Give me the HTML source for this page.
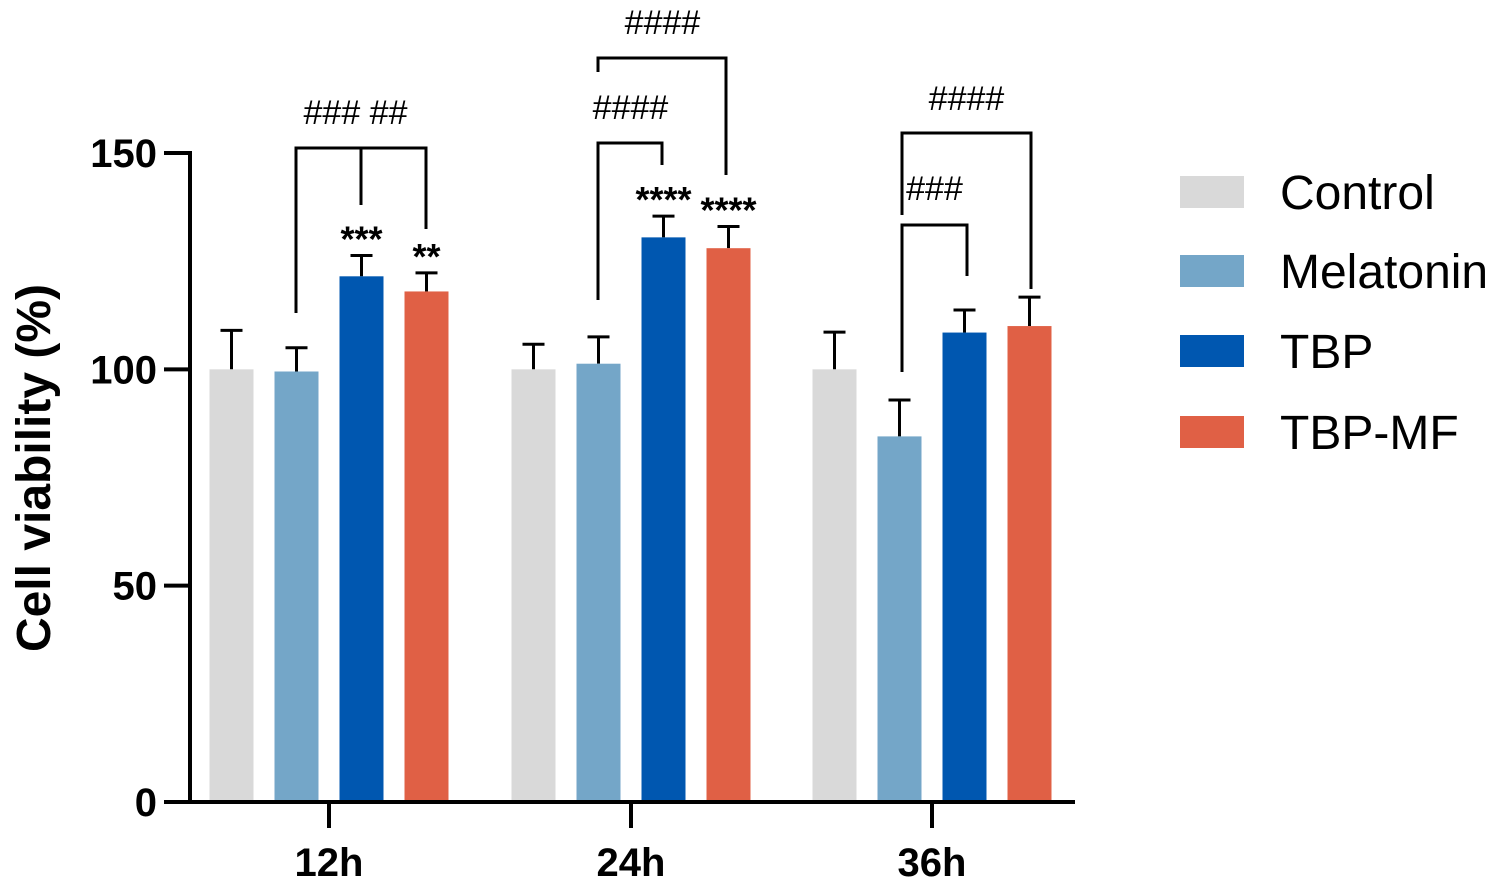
<!DOCTYPE html>
<html><head><meta charset="utf-8">
<style>
html,body{margin:0;padding:0;background:#fff;}
svg{display:block;font-family:"Liberation Sans",Arial,sans-serif;}
</style></head>
<body>
<svg id="chart" width="1502" height="888" viewBox="0 0 1502 888"></svg>
<script>
const categories = ["12h","24h","36h"];
const seriesNames = ["Control","Melatonin","TBP","TBP-MF"];
const controlVals = [100,100,100];
const melatoninVals = [99.5,101.3,84.5];
const tbpVals = [121.5,130.5,108.5];
const tbpmfVals = [118,128,110];
const controlErr = [9,5.8,8.6];
const melatoninErr = [5.5,6.2,8.4];
const tbpErr = [4.8,4.9,5.2];
const tbpmfErr = [4.3,5,6.7];
const yTicks = [0,50,100,150];
const starLabels = [["","","***","**"],["","","****","****"],["","","",""]];

const colors = ["#d9d9d9","#74a6c8","#0057b0","#e06045"];
const values = [controlVals,melatoninVals,tbpVals,tbpmfVals];
const errs = [controlErr,melatoninErr,tbpErr,tbpmfErr];
const svg = document.getElementById('chart');
const NS = "http://www.w3.org/2000/svg";
function mk(tag, attrs, parent){const e=document.createElementNS(NS,tag);for(const k in attrs)e.setAttribute(k,attrs[k]);(parent||svg).appendChild(e);return e;}
const y0=802, yTop=153, x0=190, x1=1075;
function yScale(v){return y0-(v/150)*(y0-yTop);}
const groupCenters=[329,631,932];
function xScale(gi,si){return groupCenters[gi]+(si-1.5)*65;}
const bw=44;

for(let s=0;s<4;s++){
  for(let g=0;g<categories.length;g++){
    const cx=xScale(g,s), v=values[s][g], top=yScale(v), et=yScale(v+errs[s][g]);
    const eb=mk('line',{x1:cx,x2:cx,y1:top,y2:et,stroke:'#000','stroke-width':3});
    
    
    const cap=mk('line',{x1:cx-11,x2:cx+11,y1:et,y2:et,stroke:'#000','stroke-width':3});
    
    
    const r=mk('rect',{x:cx-bw/2,y:top,width:bw,height:y0-top,fill:colors[s]});
    
    
    const lab=starLabels[g][s];
    if(lab){
      const t=mk('text',{x:cx,y:et-4,'text-anchor':'middle','font-size':36,'font-weight':'bold'});
      t.textContent=lab;
      
      
    }
  }
}
const ya=mk('line',{x1:x0,x2:x0,y1:yTop-2,y2:y0+1.5,stroke:'#000','stroke-width':4});


const xa=mk('line',{x1:x0-2,x2:x1,y1:y0,y2:y0,stroke:'#000','stroke-width':4});


yTicks.forEach(v=>{
  const y=yScale(v);
  const tk=mk('line',{x1:x0-26,x2:x0,y1:y,y2:y,stroke:'#000','stroke-width':4});
  
  
  const t=mk('text',{x:157,y:y+14,'text-anchor':'end','font-size':40,'font-weight':'bold'});
  t.textContent=v;
  
  
});
categories.forEach((c,g)=>{
  const x=groupCenters[g];
  const tk=mk('line',{x1:x,x2:x,y1:y0,y2:y0+26,stroke:'#000','stroke-width':4});
  
  
  const t=mk('text',{x:x,y:876,'text-anchor':'middle','font-size':40,'font-weight':'bold'});
  t.textContent=c;
  
  
});
const yl=mk('text',{x:0,y:0,'text-anchor':'middle','font-size':48,'font-weight':'bold',transform:'translate(50,468) rotate(-90)'});
yl.textContent='Cell viability  (%)';



function path(d,name){const p=mk('path',{d:d,fill:'none',stroke:'#000','stroke-width':3});}
function txt(x,y,s,name){const t=mk('text',{x:x,y:y,'text-anchor':'middle','font-size':34,'font-style':'italic'});t.textContent=s;}
path('M296 313 V148 H426 V229 M361 148 V205','bracket-12h');
txt(355,124,'###  ##','hash-12h');
path('M598 300 V143 H662 V165','bracket-24h-tbp');
txt(630,119,'####','hash-24h-tbp');
path('M598 72 V58 H726 V175','bracket-24h-tbpmf');
txt(662,34,'####','hash-24h-tbpmf');
path('M902 372 V225 H967 V276','bracket-36h-tbp');
txt(934,200,'###','hash-36h-tbp');
path('M902 215 V133 H1031 V289','bracket-36h-tbpmf');
txt(966,110,'####','hash-36h-tbpmf');

const legY=[192,271,351,432];
seriesNames.forEach((n,i)=>{
  const g=mk('g',{});
  
  
  mk('rect',{x:1180,y:legY[i]-16,width:64,height:32,fill:colors[i]},g);
  const t=mk('text',{x:1280,y:legY[i]+17,'font-size':48},g);
  t.textContent=n;
});
</script>
</body></html>
